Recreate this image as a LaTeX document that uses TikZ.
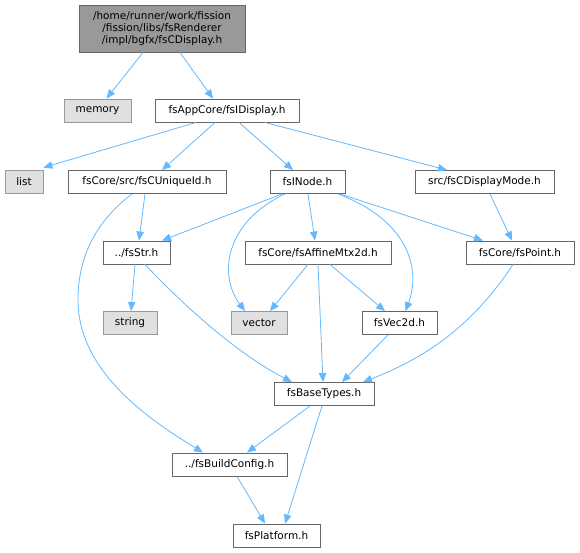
\documentclass[tikz,border=0pt]{standalone}
\usepackage{fontspec}
\setmainfont{DejaVu Sans}
\usetikzlibrary{arrows.meta}
\definecolor{edgec}{HTML}{63B8FF}
\definecolor{bordw}{HTML}{666666}
\definecolor{bordg}{HTML}{999999}
\definecolor{fillg}{HTML}{E0E0E0}
\definecolor{filltop}{HTML}{999999}
\tikzset{
  filebox/.style={draw=bordw, fill=white, line width=0.9pt, inner sep=0pt, minimum height=23pt, font=\fontsize{10.5}{11.7}\selectfont},
  sysbox/.style={filebox, draw=bordg, fill=fillg},
  topbox/.style={filebox, draw=bordw, fill=filltop, align=center, minimum height=47pt},
  dep/.style={draw=edgec, line width=0.8pt, -{Triangle[length=9pt,width=7.5pt]}}
}
\begin{document}
\begin{tikzpicture}[x=1pt,y=-1pt]
\useasboundingbox (0,0) rectangle (580,552);
\node[topbox, minimum width=166pt] (top) at (162,28.5) {/home/runner/work/fission\\/fission/libs/fsRenderer\\/impl/bgfx/fsCDisplay.h};
\node[sysbox, minimum width=67pt] (memory) at (97.5,110.5) {memory};
\node[filebox, minimum width=144pt] (disp) at (227,110.5) {fsAppCore/fsIDisplay.h};
\node[sysbox, minimum width=38pt] (list) at (24,182) {list};
\node[filebox, minimum width=158pt] (uniq) at (147,182) {fsCore/src/fsCUniqueId.h};
\node[filebox, minimum width=75pt] (inode) at (307.5,182) {fsINode.h};
\node[filebox, minimum width=139pt] (mode) at (484.5,182) {src/fsCDisplayMode.h};
\node[filebox, minimum width=67pt] (str) at (136.5,252.5) {../fsStr.h};
\node[filebox, minimum width=146pt] (affine) at (318,252.5) {fsCore/fsAffineMtx2d.h};
\node[filebox, minimum width=108pt] (point) at (520,252.5) {fsCore/fsPoint.h};
\node[sysbox, minimum width=54pt] (string) at (130,323) {string};
\node[sysbox, minimum width=56pt] (vector) at (259,323) {vector};
\node[filebox, minimum width=75pt] (vec2d) at (399.5,323) {fsVec2d.h};
\node[filebox, minimum width=100pt] (base) at (324,394) {fsBaseTypes.h};
\node[filebox, minimum width=115pt] (build) at (229.5,464.5) {../fsBuildConfig.h};
\node[filebox, minimum width=87pt] (plat) at (276.5,535.5) {fsPlatform.h};

\draw[dep] ([xshift=-19pt]top.south) -- ([xshift=9pt]memory.north);
\draw[dep] ([xshift=18pt]top.south) -- ([xshift=-14pt]disp.north);
\draw[dep] ([xshift=-31pt]disp.south) -- ([yshift=2.5pt]list.north east);
\draw[dep] ([xshift=-12pt]disp.south) -- ([xshift=15pt]uniq.north);
\draw[dep] ([xshift=12pt]disp.south) -- ([xshift=-14.5pt]inode.north);
\draw[dep] ([xshift=38pt]disp.south) -- ([xshift=-37.5pt]mode.north);
\draw[dep] ([xshift=-2pt]uniq.south) -- ([xshift=2.5pt]str.north);
\draw[dep] ([xshift=-15pt]uniq.south) .. controls (95,222) and (78,258) .. (78,300) .. controls (78,372) and (150,420) .. ([xshift=-26.5pt]build.north);
\draw[dep] ([xshift=-25.5pt]inode.south) -- ([xshift=25.5pt]str.north);
\draw[dep] ([xshift=-22.5pt]inode.south) .. controls (225,222) and (218,275) .. ([xshift=-14pt]vector.north);
\draw[dep] ([xshift=0.5pt]inode.south) -- ([xshift=-3pt]affine.north);
\draw[dep] ([xshift=30.5pt]inode.south) .. controls (412,222) and (420,272) .. ([xshift=6pt]vec2d.north);
\draw[dep] ([xshift=32.5pt]inode.south) -- ([xshift=-37pt]point.north);
\draw[dep] ([xshift=5.5pt]mode.south) -- ([xshift=-8pt]point.north);
\draw[dep] ([xshift=-1.5pt]str.south) -- ([xshift=1pt]string.north);
\draw[dep] ([xshift=8.5pt]str.south) .. controls (190,312) and (240,355) .. ([xshift=-32pt]base.north);
\draw[dep] ([xshift=-10pt]affine.south) -- ([xshift=11pt]vector.north);
\draw[dep] ([xshift=0pt]affine.south) -- ([xshift=-1pt]base.north);
\draw[dep] ([xshift=12pt]affine.south) -- ([xshift=-14.5pt]vec2d.north);
\draw[dep] ([xshift=-7pt]point.south) .. controls (470,330) and (420,360) .. ([xshift=39pt]base.north);
\draw[dep] ([xshift=-11.5pt]vec2d.south) -- ([xshift=18pt]base.north);
\draw[dep] ([xshift=-14pt]base.south) -- ([xshift=17.5pt]build.north);
\draw[dep] ([xshift=-2pt]base.south) -- ([xshift=8.5pt]plat.north);
\draw[dep] ([xshift=7.5pt]build.south) -- ([xshift=-11.5pt]plat.north);
\end{tikzpicture}
\end{document}
